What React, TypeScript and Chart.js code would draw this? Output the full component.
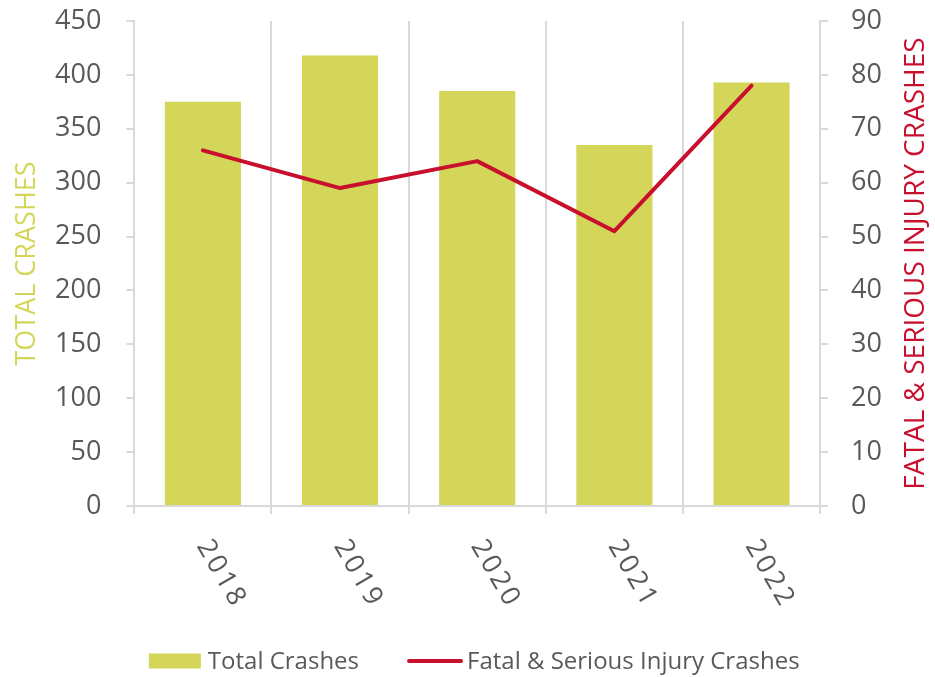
import React, { useEffect, useRef } from 'react';
import { Chart, registerables } from 'chart.js';

Chart.register(...registerables);

// ---- data ----
const categories = ['2018', '2019', '2020', '2021', '2022'];
const totalCrashes = [375, 418, 385, 335, 393];
const fatalSeriousCrashes = [66, 59, 64, 51, 78];
const seriesNames = ['Total Crashes', 'Fatal & Serious Injury Crashes'];
const axisTitles = ['TOTAL CRASHES', 'FATAL & SERIOUS INJURY CRASHES'];
const leftAxisRange = [0, 450, 50];
const rightAxisRange = [0, 90, 10];

// ---- styles ----
const BAR_COLOR = '#D4D65A';
const LINE_COLOR = '#C8102E';
const TEXT_COLOR = '#595959';
const GRID_COLOR = '#D9D9D9';
const FONT = '"Open Sans", sans-serif';

const decorPlugin = {
  id: 'decor',
  afterDraw(chart: any) {
    const ctx = chart.ctx as CanvasRenderingContext2D;
    const area = chart.chartArea;
    const xs = chart.scales.x;
    const cy = (area.top + area.bottom) / 2;

    // rotated category labels
    ctx.save();
    ctx.fillStyle = TEXT_COLOR;
    ctx.font = `27px ${FONT}`;
    (ctx as any).letterSpacing = '3px';
    ctx.textAlign = 'left';
    ctx.textBaseline = 'middle';
    categories.forEach((c, i) => {
      const px = xs.getPixelForValue(i);
      ctx.save();
      ctx.translate(px, xs.top + 36);
      ctx.rotate(Math.PI / 3);
      ctx.fillText(c, 0, 0);
      ctx.restore();
    });
    ctx.restore();

    // left axis title
    ctx.save();
    ctx.font = `27px ${FONT}`;
    ctx.fillStyle = BAR_COLOR;
    ctx.textAlign = 'center';
    ctx.textBaseline = 'alphabetic';
    ctx.translate(35, cy);
    ctx.rotate(-Math.PI / 2);
    ctx.fillText(axisTitles[0], 0, 0);
    ctx.restore();

    // right axis title
    ctx.save();
    ctx.font = `28px ${FONT}`;
    ctx.fillStyle = LINE_COLOR;
    ctx.textAlign = 'center';
    ctx.textBaseline = 'alphabetic';
    ctx.translate(chart.width - 11, cy);
    ctx.rotate(-Math.PI / 2);
    ctx.fillText(axisTitles[1], 0, 0);
    ctx.restore();

    // legend
    ctx.save();
    ctx.font = `24px ${FONT}`;
    const boxW = 52, boxH = 15, gapText = 7, gapItem = 48, lineW = 56, gapLine = 4;
    const w1 = ctx.measureText(seriesNames[0]).width;
    const w2 = ctx.measureText(seriesNames[1]).width;
    const total = boxW + gapText + w1 + gapItem + lineW + gapLine + w2;
    const centerX = (area.left + area.right) / 2 - 3;
    let x = centerX - total / 2;
    const ly = 661;
    ctx.fillStyle = BAR_COLOR;
    ctx.fillRect(x, ly - boxH / 2, boxW, boxH);
    x += boxW + gapText;
    ctx.fillStyle = TEXT_COLOR;
    ctx.textAlign = 'left';
    ctx.textBaseline = 'alphabetic';
    ctx.fillText(seriesNames[0], x, ly + 8);
    x += w1 + gapItem;
    ctx.strokeStyle = LINE_COLOR;
    ctx.lineWidth = 4;
    ctx.lineCap = 'round';
    ctx.beginPath();
    ctx.moveTo(x + 2, ly);
    ctx.lineTo(x + lineW - 2, ly);
    ctx.stroke();
    x += lineW + gapLine;
    ctx.fillText(seriesNames[1], x, ly + 8);
    ctx.restore();
  },
};

const trimPadding = (scale: any) => {
  scale.paddingTop = 0;
  scale.paddingBottom = 0;
};

export default function App() {
  const canvasRef = useRef<HTMLCanvasElement | null>(null);

  useEffect(() => {
    document.body.style.margin = '0';
    const canvas = canvasRef.current;
    if (!canvas) return;
    const chart = new Chart(canvas, {
      type: 'bar',
      data: {
        labels: categories,
        datasets: [
          {
            type: 'bar',
            label: seriesNames[0],
            data: totalCrashes,
            backgroundColor: BAR_COLOR,
            borderWidth: 0,
            yAxisID: 'y',
            barPercentage: 0.555,
            categoryPercentage: 1,
            order: 1,
          },
          {
            type: 'line',
            label: seriesNames[1],
            data: fatalSeriousCrashes,
            borderColor: LINE_COLOR,
            backgroundColor: LINE_COLOR,
            borderWidth: 4,
            borderCapStyle: 'round',
            borderJoinStyle: 'round',
            pointRadius: 0,
            pointHoverRadius: 0,
            tension: 0,
            fill: false,
            yAxisID: 'y1',
            order: 0,
          },
        ] as any,
      },
      options: {
        responsive: false,
        animation: false,
        layout: { padding: { top: 21, left: 30, right: 30, bottom: 163 } },
        plugins: {
          legend: { display: false },
          tooltip: { enabled: false },
          title: { display: false },
        },
        scales: {
          x: {
            type: 'category',
            offset: true,
            grid: {
              display: true,
              offset: true,
              color: GRID_COLOR,
              lineWidth: 2,
              drawOnChartArea: true,
              drawTicks: true,
              tickLength: 8,
              tickColor: GRID_COLOR,
            },
            border: { display: true, color: GRID_COLOR, width: 2 },
            ticks: { display: false },
          },
          y: {
            type: 'linear',
            position: 'left',
            min: leftAxisRange[0],
            max: leftAxisRange[1],
            afterFit: trimPadding,
            grid: {
              drawOnChartArea: false,
              drawTicks: true,
              tickLength: 8,
              color: GRID_COLOR,
              lineWidth: 2,
            },
            border: { display: true, color: GRID_COLOR, width: 2 },
            ticks: {
              stepSize: leftAxisRange[2],
              color: TEXT_COLOR,
              font: { family: FONT, size: 27 },
              padding: 25,
            },
          },
          y1: {
            type: 'linear',
            position: 'right',
            min: rightAxisRange[0],
            max: rightAxisRange[1],
            afterFit: trimPadding,
            grid: {
              drawOnChartArea: false,
              drawTicks: true,
              tickLength: 8,
              color: GRID_COLOR,
              lineWidth: 2,
            },
            border: { display: true, color: GRID_COLOR, width: 2 },
            ticks: {
              stepSize: rightAxisRange[2],
              color: TEXT_COLOR,
              font: { family: FONT, size: 27 },
              padding: 23,
            },
          },
        },
      } as any,
      plugins: [decorPlugin],
    });
    return () => chart.destroy();
  }, []);

  return (
    <div style={{ width: 935, height: 677 }}>
      <canvas ref={canvasRef} width={935} height={677} />
    </div>
  );
}
